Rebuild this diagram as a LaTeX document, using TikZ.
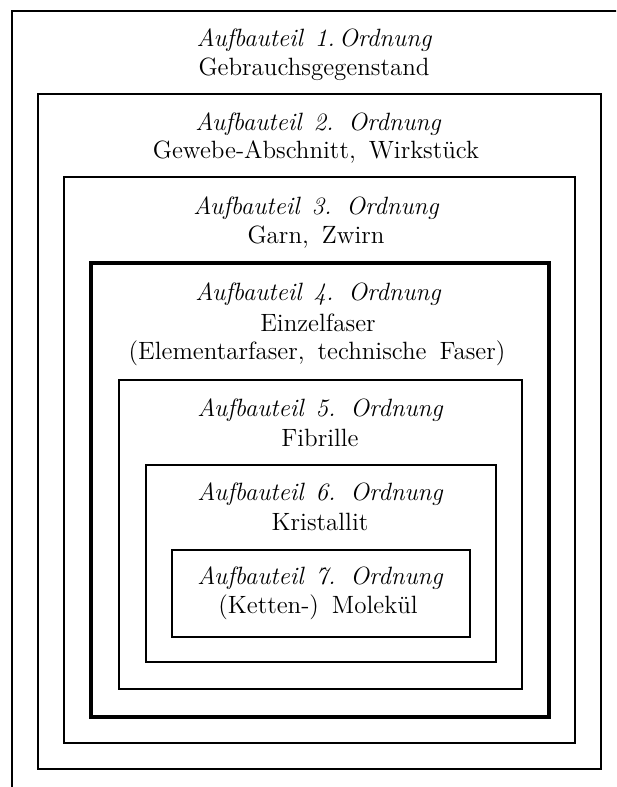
\documentclass[tikz,border=0pt]{standalone}
\usepackage{tikz}
\usetikzlibrary{positioning}

\newcommand{\ordfont}{\fontsize{12.5}{15}\selectfont\itshape\spaceskip=6pt plus 1pt\relax}
\newcommand{\lblfont}{\fontsize{12.5}{15}\selectfont\spaceskip=6.5pt plus 1pt\relax}

\begin{document}
\begin{tikzpicture}[x=0.5pt, y=-0.5pt,
  box/.style={line width=0.55pt},
  heavy/.style={line width=2pt},
  ord/.style={inner sep=0pt, font=\ordfont},
  lbl/.style={inner sep=0pt, font=\lblfont}
]
\useasboundingbox (0,0) rectangle (616,787);
\clip (0,0) rectangle (616,787);

% --- nested frames, outside to inside ---
\draw[box]   (12,11)  rectangle (660,840);
\draw[box]   (38,94)  rectangle (601,769);
\draw[box]   (64,177) rectangle (575,743);
\draw[heavy] (91,263) rectangle (549,717);
\draw[box]   (119,380) rectangle (522,689);
\draw[box]   (146,465) rectangle (496,662);
\draw[box]   (172,550) rectangle (470,637);

% --- labels, two lines per frame ---
\node[ord] (t1) at (314,40) {Aufbauteil 1.\,Ordnung};
\node[lbl] (n1) at (314,69) {Gebrauchsgegenstand};

\node[ord] (t2) at (318,124) {Aufbauteil 2. Ordnung};
\node[lbl] (n2) at (316,152) {Gewebe-Abschnitt, Wirkstück};

\node[ord] (t3) at (316,208) {Aufbauteil 3. Ordnung};
\node[lbl] (n3) at (316,237) {Garn, Zwirn};

\node[ord] (t4) at (318,294) {Aufbauteil 4. Ordnung};
\node[lbl] (n4) at (318,323) {Einzelfaser};
\node[lbl] (m4) at (317,353) {(Elementarfaser, technische Faser)};

\node[ord] (t5) at (320,410) {Aufbauteil 5. Ordnung};
\node[lbl] (n5) at (320,438) {Fibrille};

\node[ord] (t6) at (320,494) {Aufbauteil 6. Ordnung};
\node[lbl] (n6) at (320,522) {Kristallit};

\node[ord] (t7) at (320,578) {Aufbauteil 7. Ordnung};
\node[lbl] (n7) at (318,607) {(Ketten-) Molekül};

\end{tikzpicture}
\end{document}
